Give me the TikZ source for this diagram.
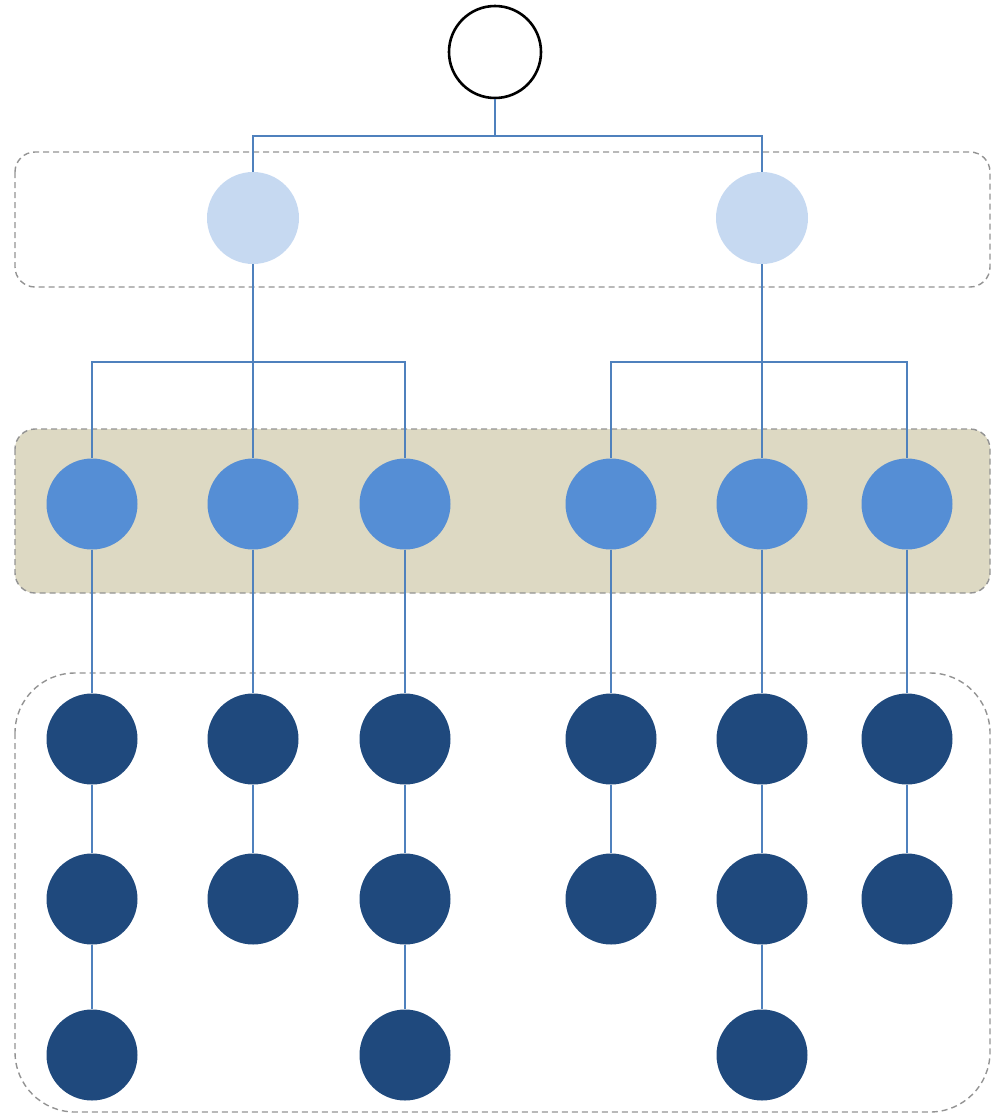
\documentclass[tikz,border=0pt]{standalone}
\begin{document}
\begin{tikzpicture}[x=1pt,y=-1pt,
  box/.style={draw=gray!85, line width=1.4pt, dash pattern=on 6pt off 4pt},
  link/.style={draw=linkc, line width=1.4pt},
  rootc/.style={circle, draw=black, line width=2.6pt, minimum size=92pt, inner sep=0pt},
  lightc/.style={circle, fill=lightfill, minimum size=92pt, inner sep=0pt},
  midc/.style={circle, fill=midfill, minimum size=91pt, inner sep=0pt},
  darkc/.style={circle, fill=darkfill, minimum size=91pt, inner sep=0pt}
]
\definecolor{linkc}{HTML}{4F81BD}
\definecolor{lightfill}{HTML}{C6D9F1}
\definecolor{midfill}{HTML}{558ED5}
\definecolor{darkfill}{HTML}{1F497D}
\definecolor{tanfill}{HTML}{DDD9C3}
\useasboundingbox (0,0) rectangle (992,1114);

% group boxes
\draw[box, rounded corners=20pt] (15,152) rectangle (990,287);
\draw[box, fill=tanfill, rounded corners=20pt] (15,429) rectangle (990,593);
\draw[box, rounded corners=60pt] (15,673) rectangle (990,1112);

% nodes
\node[rootc] (r) at (495,52) {};
\node[lightc] (l1) at (253,218) {};
\node[lightc] (l2) at (762,218) {};

\foreach \i/\x in {1/92,2/253,3/405,4/611,5/762,6/907}{
  \node[midc] (m\i) at (\x,504) {};
  \node[darkc] (a\i) at (\x,739) {};
  \node[darkc] (b\i) at (\x,899) {};
}
\node[darkc] (c1) at (92,1055) {};
\node[darkc] (c3) at (405,1055) {};
\node[darkc] (c5) at (762,1055) {};

% connectors
\coordinate (rj) at (495,136);
\coordinate (lj) at (253,362);
\coordinate (rj2) at (762,362);
\draw[link] (r.south) -- (rj);
\draw[link] (rj) -| (l1.north);
\draw[link] (rj) -| (l2.north);
\draw[link] (l1.south) -- (lj);
\draw[link] (lj) -| (m1.north);
\draw[link] (lj) -| (m3.north);
\draw[link] (lj) -- (m2.north);
\draw[link] (l2.south) -- (rj2);
\draw[link] (rj2) -| (m4.north);
\draw[link] (rj2) -| (m6.north);
\draw[link] (rj2) -- (m5.north);
\foreach \i in {1,...,6}{
  \draw[link] (m\i.south) -- (a\i.north);
  \draw[link] (a\i.south) -- (b\i.north);
}
\draw[link] (b1.south) -- (c1.north);
\draw[link] (b3.south) -- (c3.north);
\draw[link] (b5.south) -- (c5.north);
\end{tikzpicture}
\end{document}
